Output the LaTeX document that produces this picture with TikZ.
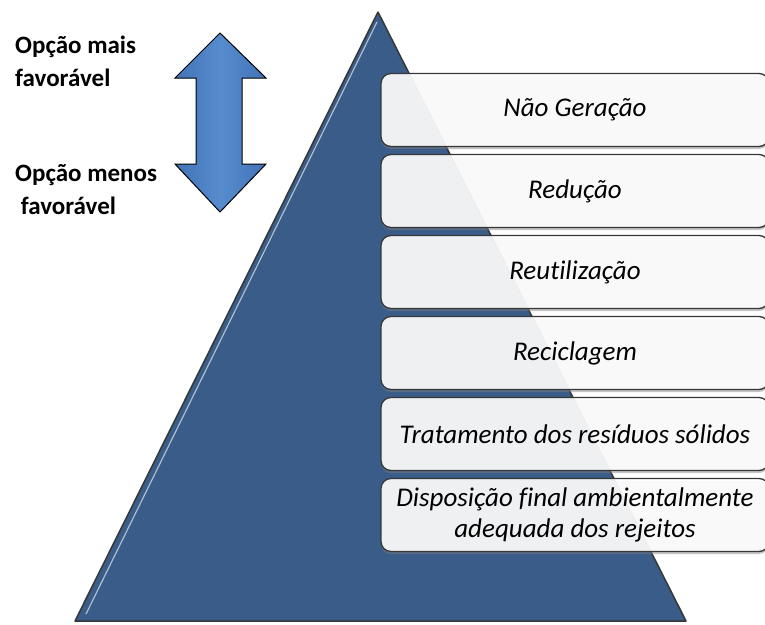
\documentclass[tikz,border=0pt]{standalone}
\usepackage{fontspec}
\setmainfont[Ligatures=NoCommon]{Carlito}
\usetikzlibrary{positioning,shadows}

\definecolor{pirblue}{RGB}{57,92,137}
\definecolor{arrlight}{RGB}{86,140,206}
\definecolor{arrdark}{RGB}{66,115,182}
\definecolor{edgegray}{RGB}{55,55,55}

\begin{document}
\begin{tikzpicture}[x=1pt, y=-1pt,
  every node/.style={inner sep=0pt},
  nivel/.style={draw=edgegray, line width=1.3pt, rounded corners=10pt, fill=white, fill opacity=0.9, text opacity=1,
    drop shadow={opacity=0.45, shadow xshift=0pt, shadow yshift=-2.5pt},
    minimum width=388pt, minimum height=73pt, align=center, font=\fontsize{27}{31}\selectfont\itshape},
  rotulo/.style={anchor=north west, align=left, font=\fontsize{25}{33}\selectfont\bfseries}]
  \clip (0,0) rectangle (765,624);
  \fill[white] (0,0) rectangle (765,624);
  % piramide
  \draw[fill=pirblue, draw=edgegray, line width=1.5pt, line join=round] (378,12) -- (686,621) -- (75,621) -- cycle;
  \draw[white, opacity=0.6, line width=1.2pt] (377,22) -- (86,614);
  % seta dupla
  \draw[left color=arrdark, right color=arrdark, middle color=arrlight, draw=black, line width=1pt, line join=miter]
    (220,33) -- (266,78) -- (242,78) -- (242,164) -- (266,164) -- (220,212)
    -- (175,164) -- (196,164) -- (196,78) -- (175,78) -- cycle;
  \node[rotulo] (mais) at (15,36) {Opção mais\\favorável};
  \node[rotulo] (menos) at (15,164) {Opção menos\\\ favorável};
  % niveis
  \node[nivel] (nao) at (575,110) {Não Geração};
  \node[nivel, below=6.7pt of nao] (reducao) {Redução};
  \node[nivel, below=6.7pt of reducao] (reutil) {Reutilização};
  \node[nivel, below=6.7pt of reutil] (recicl) {Reciclagem};
  \node[nivel, below=6.7pt of recicl] (tratam) {Tratamento dos resíduos sólidos};
  \node[nivel, below=6.7pt of tratam] (dispos) {Disposição final ambientalmente\\adequada dos rejeitos};
\end{tikzpicture}
\end{document}
